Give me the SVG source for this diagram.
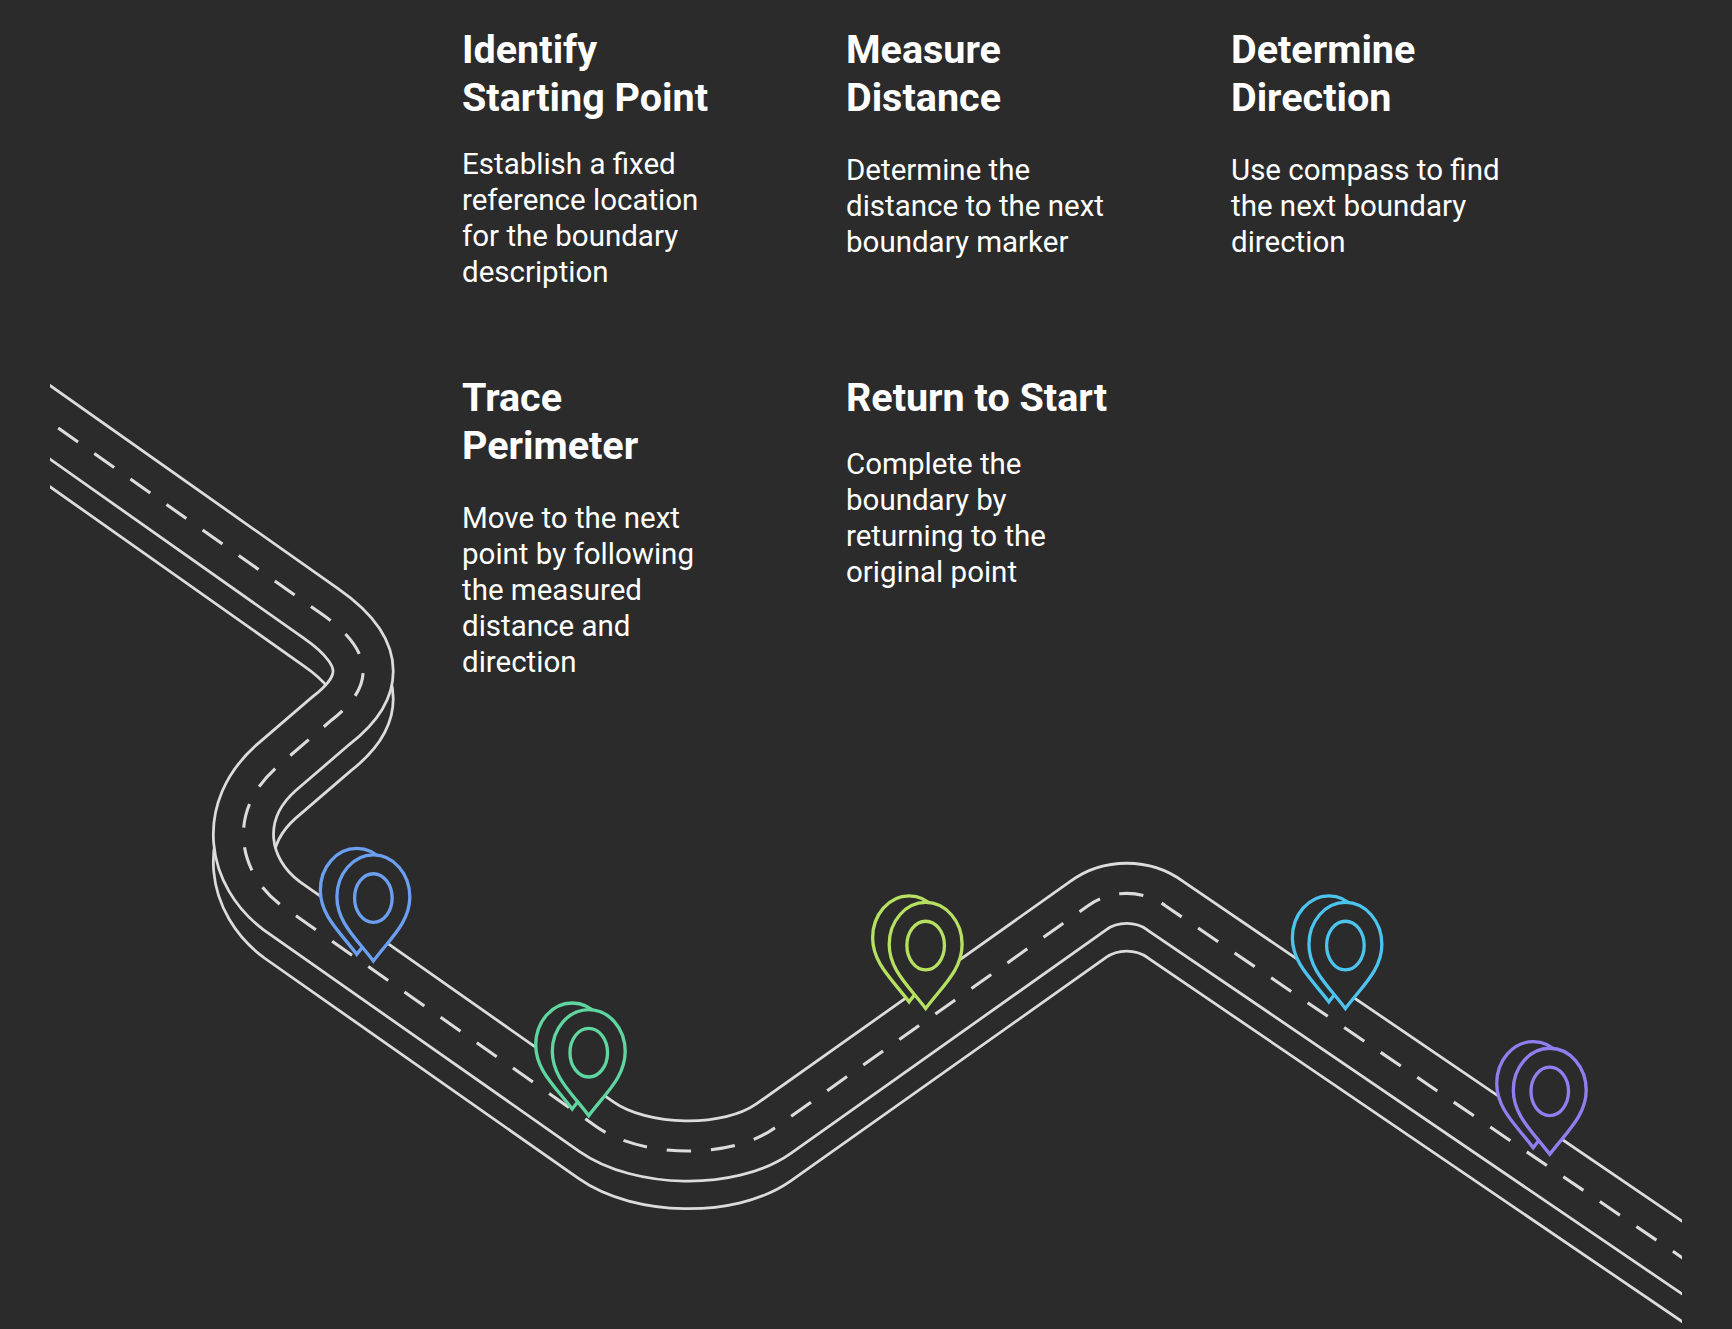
<svg xmlns="http://www.w3.org/2000/svg" width="1732" height="1329" viewBox="0 0 1732 1329">
<style>
.t{font-family:Roboto,"Liberation Sans",sans-serif;font-weight:700;font-size:39.5px;fill:#fff}
.b{font-family:Roboto,"Liberation Sans",sans-serif;font-size:29.5px;fill:#fff}
.edge{fill:none;stroke:#dcdcdc;stroke-width:57}
.inner{fill:none;stroke:#2b2b2b;stroke-width:52}
.dash{fill:none;stroke:#dcdcdc;stroke-width:2.8;stroke-dasharray:22 18}
.pin{fill:#2b2b2b;stroke-width:3}
</style>
<defs>
<path id="road" d="M20,364.5 L290,555 C345,593 335,625 300,652 L250,695 C205,735 215,790 255,820 L540,1020 C580,1048 660,1050 700,1022 L985,820 C1005,805 1035,805 1055,820 L1550,1157"/>
<g id="pinShape">
<path d="M0,55 C-15,35 -33,20 -33,-3 A33,38 0 1 1 33,-3 C33,20 15,35 0,55 Z"/>
<ellipse cx="0" cy="-2" rx="17" ry="22"/>
</g>
<clipPath id="cl" clipPathUnits="userSpaceOnUse"><rect x="50" y="330" width="1632" height="999"/></clipPath>
</defs>
<rect width="1732" height="1329" fill="#2b2b2b"/>
<g id="connectors" clip-path="url(#cl)">
<g transform="scale(1.1046)">
<use href="#road" class="edge" transform="translate(0,25)"/>
<use href="#road" class="inner" transform="translate(0,25)"/>
<use href="#road" class="edge"/>
<use href="#road" class="inner"/>
<use href="#road" class="dash"/>
</g>
</g>
<g transform="scale(1.1046)">
<g id="pin1" stroke="#6b9ff0"><path class="pin" transform="translate(323,809)" d="M0,55 C-15,35 -33,20 -33,-3 A33,38 0 1 1 33,-3 C33,20 15,35 0,55 Z"/><use href="#pinShape" class="pin" transform="translate(338,815)"/></g>
<g id="pin2" stroke="#5fd6a0"><path class="pin" transform="translate(518,949)" d="M0,55 C-15,35 -33,20 -33,-3 A33,38 0 1 1 33,-3 C33,20 15,35 0,55 Z"/><use href="#pinShape" class="pin" transform="translate(533,955)"/></g>
<g id="pin3" stroke="#b5e061"><path class="pin" transform="translate(823,852)" d="M0,55 C-15,35 -33,20 -33,-3 A33,38 0 1 1 33,-3 C33,20 15,35 0,55 Z"/><use href="#pinShape" class="pin" transform="translate(838,858)"/></g>
<g id="pin4" stroke="#4cc4ee"><path class="pin" transform="translate(1203,852)" d="M0,55 C-15,35 -33,20 -33,-3 A33,38 0 1 1 33,-3 C33,20 15,35 0,55 Z"/><use href="#pinShape" class="pin" transform="translate(1218,858)"/></g>
<g id="pin5" stroke="#8f7ff0"><path class="pin" transform="translate(1388,984)" d="M0,55 C-15,35 -33,20 -33,-3 A33,38 0 1 1 33,-3 C33,20 15,35 0,55 Z"/><use href="#pinShape" class="pin" transform="translate(1403,990)"/></g>
</g>
<g id="step1"><text class="t" x="462" y="63">Identify</text><text class="t" x="462" y="111">Starting Point</text>
<text class="b" x="462" y="174">Establish a fixed</text><text class="b" x="462" y="210">reference location</text><text class="b" x="462" y="246">for the boundary</text><text class="b" x="462" y="282">description</text></g>
<g id="step2"><text class="t" x="846" y="63">Measure</text><text class="t" x="846" y="111">Distance</text>
<text class="b" x="846" y="180">Determine the</text><text class="b" x="846" y="216">distance to the next</text><text class="b" x="846" y="252">boundary marker</text></g>
<g id="step3"><text class="t" x="1231" y="63">Determine</text><text class="t" x="1231" y="111">Direction</text>
<text class="b" x="1231" y="180">Use compass to find</text><text class="b" x="1231" y="216">the next boundary</text><text class="b" x="1231" y="252">direction</text></g>
<g id="step4"><text class="t" x="462" y="411">Trace</text><text class="t" x="462" y="459">Perimeter</text>
<text class="b" x="462" y="528">Move to the next</text><text class="b" x="462" y="564">point by following</text><text class="b" x="462" y="600">the measured</text><text class="b" x="462" y="636">distance and</text><text class="b" x="462" y="672">direction</text></g>
<g id="step5"><text class="t" x="846" y="411">Return to Start</text>
<text class="b" x="846" y="474">Complete the</text><text class="b" x="846" y="510">boundary by</text><text class="b" x="846" y="546">returning to the</text><text class="b" x="846" y="582">original point</text></g>
</svg>
